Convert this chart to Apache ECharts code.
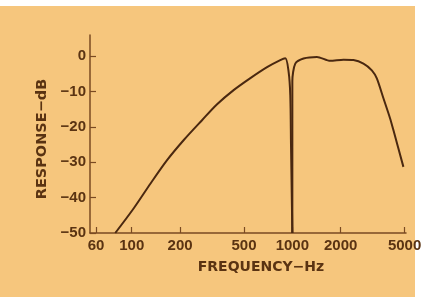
<!DOCTYPE html>
<html>
<head>
<meta charset="utf-8">
<script src="https://cdn.jsdelivr.net/npm/echarts@6/dist/echarts.min.js"></script>
<style>
  html, body { margin: 0; padding: 0; background: #ffffff; }
  #paper { position: absolute; left: 0; top: 6px; width: 415px; height: 291px; background: #F6C67D; }
  #chart { position: absolute; left: 0; top: 0; width: 425px; height: 297px; }
</style>
</head>
<body>
<div id="paper"></div>
<div id="chart"></div>
<script>
// Frequency response (Hz, dB)
const freqLow = [79, 103, 131, 166, 211, 274, 340, 431, 548, 696, 841, 904, 948, 971, 981, 1000];
const dbLow   = [-50, -43, -36, -29.4, -23.7, -18.1, -13.6, -9.6, -6.2, -3.1, -1.1, -0.6, -4.4, -11, -25, -50];
const freqHigh = [1000, 1000, 1043, 1174, 1423, 1720, 2082, 2402, 2771, 3125, 3357, 3690, 4061, 4257, 4913];
const dbHigh   = [-50, -7, -2.1, -0.65, -0.2, -1.3, -1.0, -1.1, -2.1, -4.0, -6.3, -11.9, -17.6, -20.9, -31.3];

const xTicks = [60, 100, 200, 500, 1000, 2000, 5000];
const yTicks = [-50, -40, -30, -20, -10, 0];

const ink = '#4a2810';
const axisCol = '#7a4a22';
const textCol = '#5a3312';
const tickFont = 'Liberation Sans';
const nameFont = 'DejaVu Sans';

const chart = echarts.init(document.getElementById('chart'), null, { renderer: 'canvas' });
const pairs = (xs, ys) => xs.map((x, i) => [x, ys[i]]);

chart.setOption({
  backgroundColor: 'transparent',
  animation: false,
  grid: { left: 90, right: 19, top: 35, bottom: 64 },
  xAxis: {
    type: 'log',
    min: 55,
    max: 5100,
    name: 'FREQUENCY\u2212Hz',
    nameLocation: 'middle',
    nameGap: 27,
    nameTextStyle: { color: textCol, fontFamily: nameFont, fontWeight: 'bold', fontSize: 14, padding: [0, 0, 0, 26] },
    axisLine: { onZero: false, lineStyle: { color: axisCol, width: 1.5 } },
    axisTick: { inside: true, length: 6, customValues: xTicks, lineStyle: { color: axisCol, width: 1.2 } },
    axisLabel: {
      customValues: xTicks, color: textCol, fontFamily: tickFont, fontWeight: 'bold', fontSize: 15, margin: 5,
      formatter: v => String(Math.round(v))
    },
    splitLine: { show: false },
    minorTick: { show: false }
  },
  yAxis: {
    type: 'value',
    min: -50,
    max: 6,
    interval: 10,
    name: 'RESPONSE\u2212dB',
    nameLocation: 'middle',
    nameRotate: 90,
    nameGap: 40,
    nameTextStyle: { color: textCol, fontFamily: nameFont, fontWeight: 'bold', fontSize: 14.5, padding: [0, 10, 0, 0] },
    axisLine: { show: true, lineStyle: { color: axisCol, width: 1.5 } },
    axisTick: { show: true, inside: true, length: 6, customValues: yTicks, lineStyle: { color: axisCol, width: 1.2 } },
    axisLabel: {
      customValues: yTicks,
      color: textCol, fontFamily: tickFont, fontWeight: 'bold', fontSize: 15, margin: 4,
      formatter: v => (v < 0 ? '\u2212' + Math.abs(v) : String(v))
    },
    splitLine: { show: false }
  },
  series: [
    {
      type: 'line', data: pairs(freqLow, dbLow), showSymbol: false, smooth: 0.3,
      lineStyle: { color: ink, width: 2 }, clip: true
    },
    {
      type: 'line', data: pairs(freqHigh, dbHigh), showSymbol: false, smooth: 0.25,
      lineStyle: { color: ink, width: 2 }, clip: true
    }
  ]
});
</script>
</body>
</html>
